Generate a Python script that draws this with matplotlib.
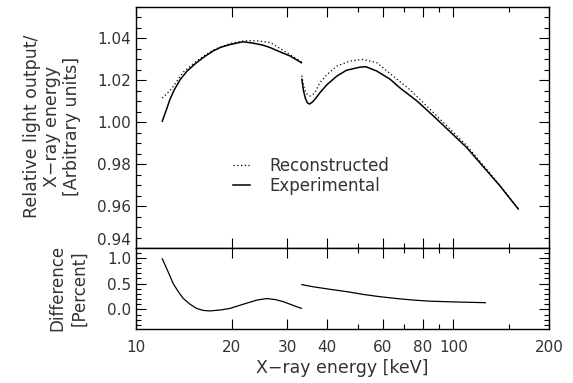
import numpy as np
import matplotlib
matplotlib.use('Agg')
import matplotlib.pyplot as plt
from matplotlib.ticker import FixedLocator, NullFormatter, MultipleLocator

plt.rcParams['font.family'] = ['DejaVu Sans']

# Experimental light output per unit energy (below / above the K-edge)
exp_e1 = [12.1, 12.4, 12.8, 13.2, 13.8, 14.5, 15.5, 16.5, 17.5, 18.5, 19.8, 21.7, 23.3, 25.1, 26.5, 28.0, 30.6, 33.2]
exp_v1 = [1.0005, 1.005, 1.011, 1.0155, 1.0205, 1.0245, 1.0284, 1.0315, 1.034, 1.0358, 1.0371, 1.0384, 1.0378, 1.0368, 1.0356, 1.034, 1.0316, 1.0284]
exp_e2 = [33.3, 33.7, 34.2, 34.7, 35.2, 36.0, 37.0, 38.0, 40.0, 42.9, 46.0, 50.8, 53.0, 57.4, 63.2, 67.7, 76.7, 86.5, 110, 140, 160]
exp_v2 = [1.0205, 1.015, 1.0112, 1.0092, 1.0087, 1.0097, 1.0118, 1.0142, 1.018, 1.022, 1.0248, 1.0263, 1.0265, 1.0244, 1.0205, 1.0165, 1.0102, 1.003, 0.988, 0.9697, 0.9586]

# Reconstructed curve
rec_e1 = [12.1, 12.9, 14.1, 15.5, 17.5, 19.8, 22.0, 24.0, 26.5, 28.4, 30.6, 33.2]
rec_v1 = [1.0115, 1.0157, 1.024, 1.0292, 1.0345, 1.0376, 1.0389, 1.0389, 1.038, 1.0352, 1.0322, 1.0288]
rec_e2 = [33.3, 33.7, 34.3, 35.4, 36.5, 38.0, 40.0, 42.9, 47.2, 51.9, 57.4, 64.6, 73.0, 86.5, 110, 140, 160]
rec_v2 = [1.0222, 1.0175, 1.0138, 1.0125, 1.0138, 1.019, 1.0228, 1.0268, 1.0292, 1.030, 1.0284, 1.022, 1.0155, 1.0046, 0.989, 0.970, 0.9588]

# Difference in percent
dif_e1 = [12.1, 12.6, 13.1, 13.6, 14.1, 14.8, 15.5, 16.3, 17.1, 18.5, 19.8, 21.0, 22.3, 24.0, 25.8, 27.5, 29.1, 31.2, 33.2]
dif_v1 = [0.98, 0.74, 0.50, 0.34, 0.21, 0.10, 0.02, -0.02, -0.03, -0.01, 0.02, 0.07, 0.12, 0.18, 0.21, 0.19, 0.15, 0.08, 0.02]
dif_e2 = [33.3, 36.0, 40.8, 46.6, 52.0, 58.0, 66.3, 75.0, 84.0, 100, 126]
dif_v2 = [0.48, 0.44, 0.39, 0.34, 0.29, 0.25, 0.21, 0.18, 0.16, 0.145, 0.13]

xticks = [10, 20, 30, 40, 60, 80, 100, 200]
xminor = [50, 70, 90, 150]

fig = plt.figure(figsize=(5.73, 3.83), dpi=100)
ax1 = fig.add_axes([136/573, 1-248/383, 413/573, 241/383])
ax2 = fig.add_axes([136/573, 1-329/383, 413/573, 81/383])

dots = (0, (1, 2))
ax1.plot(rec_e1, rec_v1, color='black', lw=0.9, ls=dots, label='Reconstructed')
ax1.plot(rec_e2, rec_v2, color='black', lw=0.9, ls=dots)
ax1.plot(exp_e1, exp_v1, color='black', lw=1.1, label='Experimental')
ax1.plot(exp_e2, exp_v2, color='black', lw=1.1)

ax2.plot(dif_e1, dif_v1, color='black', lw=0.9)
ax2.plot(dif_e2, dif_v2, color='black', lw=0.9)

for ax in (ax1, ax2):
    ax.set_xscale('log')
    ax.set_xlim(10, 200)
    ax.xaxis.set_major_locator(FixedLocator(xticks))
    ax.xaxis.set_minor_locator(FixedLocator(xminor))
    ax.tick_params(which='both', direction='in', top=True, right=True,
                   labelsize=11, labelcolor='#333333', width=0.8)
    ax.tick_params(which='major', length=7)
    ax.tick_params(which='minor', length=3.5)
    for s in ax.spines.values():
        s.set_linewidth(1.0)

ax1.set_ylim(0.94, 1.055)
ax1.yaxis.set_major_locator(FixedLocator([0.94, 0.96, 0.98, 1.00, 1.02, 1.04]))
ax1.yaxis.set_minor_locator(MultipleLocator(0.005))
ax1.set_yticklabels(['0.94', '0.96', '0.98', '1.00', '1.02', '1.04'])
ax1.xaxis.set_major_formatter(NullFormatter())
ax1.xaxis.set_minor_formatter(NullFormatter())
# lift the lowest label so it clears the panel below
ax1.get_yticklabels()[0].set_va('bottom')

ax2.set_ylim(-0.38, 1.19)
ax2.yaxis.set_major_locator(FixedLocator([0.0, 0.5, 1.0]))
ax2.yaxis.set_minor_locator(MultipleLocator(0.1))
ax2.set_yticklabels(['0.0', '0.5', '1.0'])
ax2.set_xticklabels([str(t) for t in xticks])
ax2.xaxis.set_minor_formatter(NullFormatter())
ax2.tick_params(axis='x', pad=8)

fig.text(52/573, 1-126/383, 'Relative light output/\nX\u2212ray energy\n[Arbitrary units]',
         rotation=90, ha='center', va='center', fontsize=12.5, color='#333333',
         linespacing=1.15, multialignment='center')
fig.text(68/573, 1-288/383, 'Difference\n[Percent]', rotation=90, ha='center',
         va='center', fontsize=12, color='#333333', linespacing=1.3,
         multialignment='center')
fig.text(342/573, 1-368/383, 'X\u2212ray energy [keV]', ha='center', va='center',
         fontsize=12.5, color='#333333')

ax1.legend(loc='upper left', bbox_to_anchor=(218/573, 1-142/383),
           bbox_transform=fig.transFigure, frameon=False, fontsize=12,
           handlelength=1.0, handletextpad=1.2, labelspacing=0.12,
           labelcolor='#333333')

fig.savefig('out.png', dpi=100)
